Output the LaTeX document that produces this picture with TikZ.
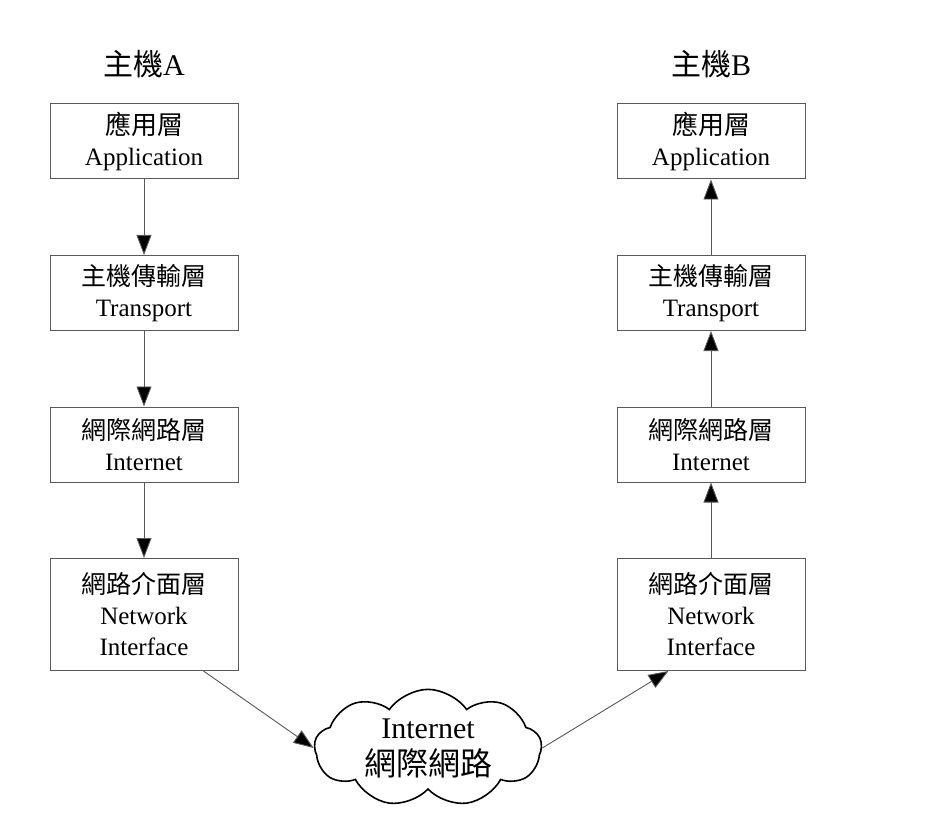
\documentclass[tikz,border=0pt]{standalone}
\usepackage{fontspec}
\setmainfont{Liberation Serif}
\newfontfamily\cjk{Noto Sans CJK TC}
\usetikzlibrary{positioning,shapes.symbols,arrows.meta}

\begin{document}
\begin{tikzpicture}[x=1pt, y=-1pt, node distance = 75.5pt,
	every node/.style = {align = center, font = \fontsize{25}{31}\selectfont},
	layer/.style = {rectangle, draw=black!65, line width=1pt,
		minimum width = 188pt, minimum height = 75pt, inner sep = 0pt},
	host/.style = {font = \fontsize{30}{34}\selectfont},
	flow/.style = {draw=black!65, line width=0.9pt,
		-{Triangle[length=20pt, width=15pt, fill=black]}}]
	
	\fill[white] (0,0) rectangle (938,840);
	\useasboundingbox (0,0) rectangle (938,840);
	
	% host A: sending stack
	\node (appA)   [layer] at (144,141.5)       {{\cjk\fontsize{26}{31}\selectfont 應用層}\\Application};
	\node (transA) [layer, below = of appA]     {{\cjk 主機傳輸層}\\Transport};
	\node (netA)   [layer, below = of transA]   {{\cjk 網際網路層}\\Internet};
	\node (ifA)    [layer, below = of netA, minimum height = 112pt]
		{{\cjk 網路介面層}\\Network\\Interface};
	\node (hostA)  [host, above = 22pt of appA] {{\cjk 主機}A};
	
	% host B: receiving stack
	\node (appB)   [layer, right = 378pt of appA] {{\cjk\fontsize{26}{31}\selectfont 應用層}\\Application};
	\node (transB) [layer, below = of appB]       {{\cjk 主機傳輸層}\\Transport};
	\node (netB)   [layer, below = of transB]     {{\cjk 網際網路層}\\Internet};
	\node (ifB)    [layer, below = of netB, minimum height = 112pt]
		{{\cjk 網路介面層}\\Network\\Interface};
	\node (hostB)  [host, above = 22pt of appB]   {{\cjk 主機}B};
	
	% the network in between
	\node (cloud) [cloud, cloud puffs = 9, cloud puff arc = 110, aspect = 2,
		draw = black, line width = 1.6pt,
		minimum width = 227pt, minimum height = 115pt, inner sep = 0pt,
		font = \fontsize{30}{37}\selectfont] at (428,748)
		{Internet\\{\cjk\fontsize{32}{37}\selectfont 網際網路}};
	
	% connections
	\draw [flow] (appA) -- (transA);
	\draw [flow] (transA) -- (netA);
	\draw [flow] (netA) -- (ifA);
	\draw [flow] ([xshift=-35pt]ifA.south east) -- (cloud.west);
	\draw [flow] (cloud.east) -- ([xshift=52pt]ifB.south west);
	\draw [flow] (ifB) -- (netB);
	\draw [flow] (netB) -- (transB);
	\draw [flow] (transB) -- (appB);
\end{tikzpicture}
\end{document}
